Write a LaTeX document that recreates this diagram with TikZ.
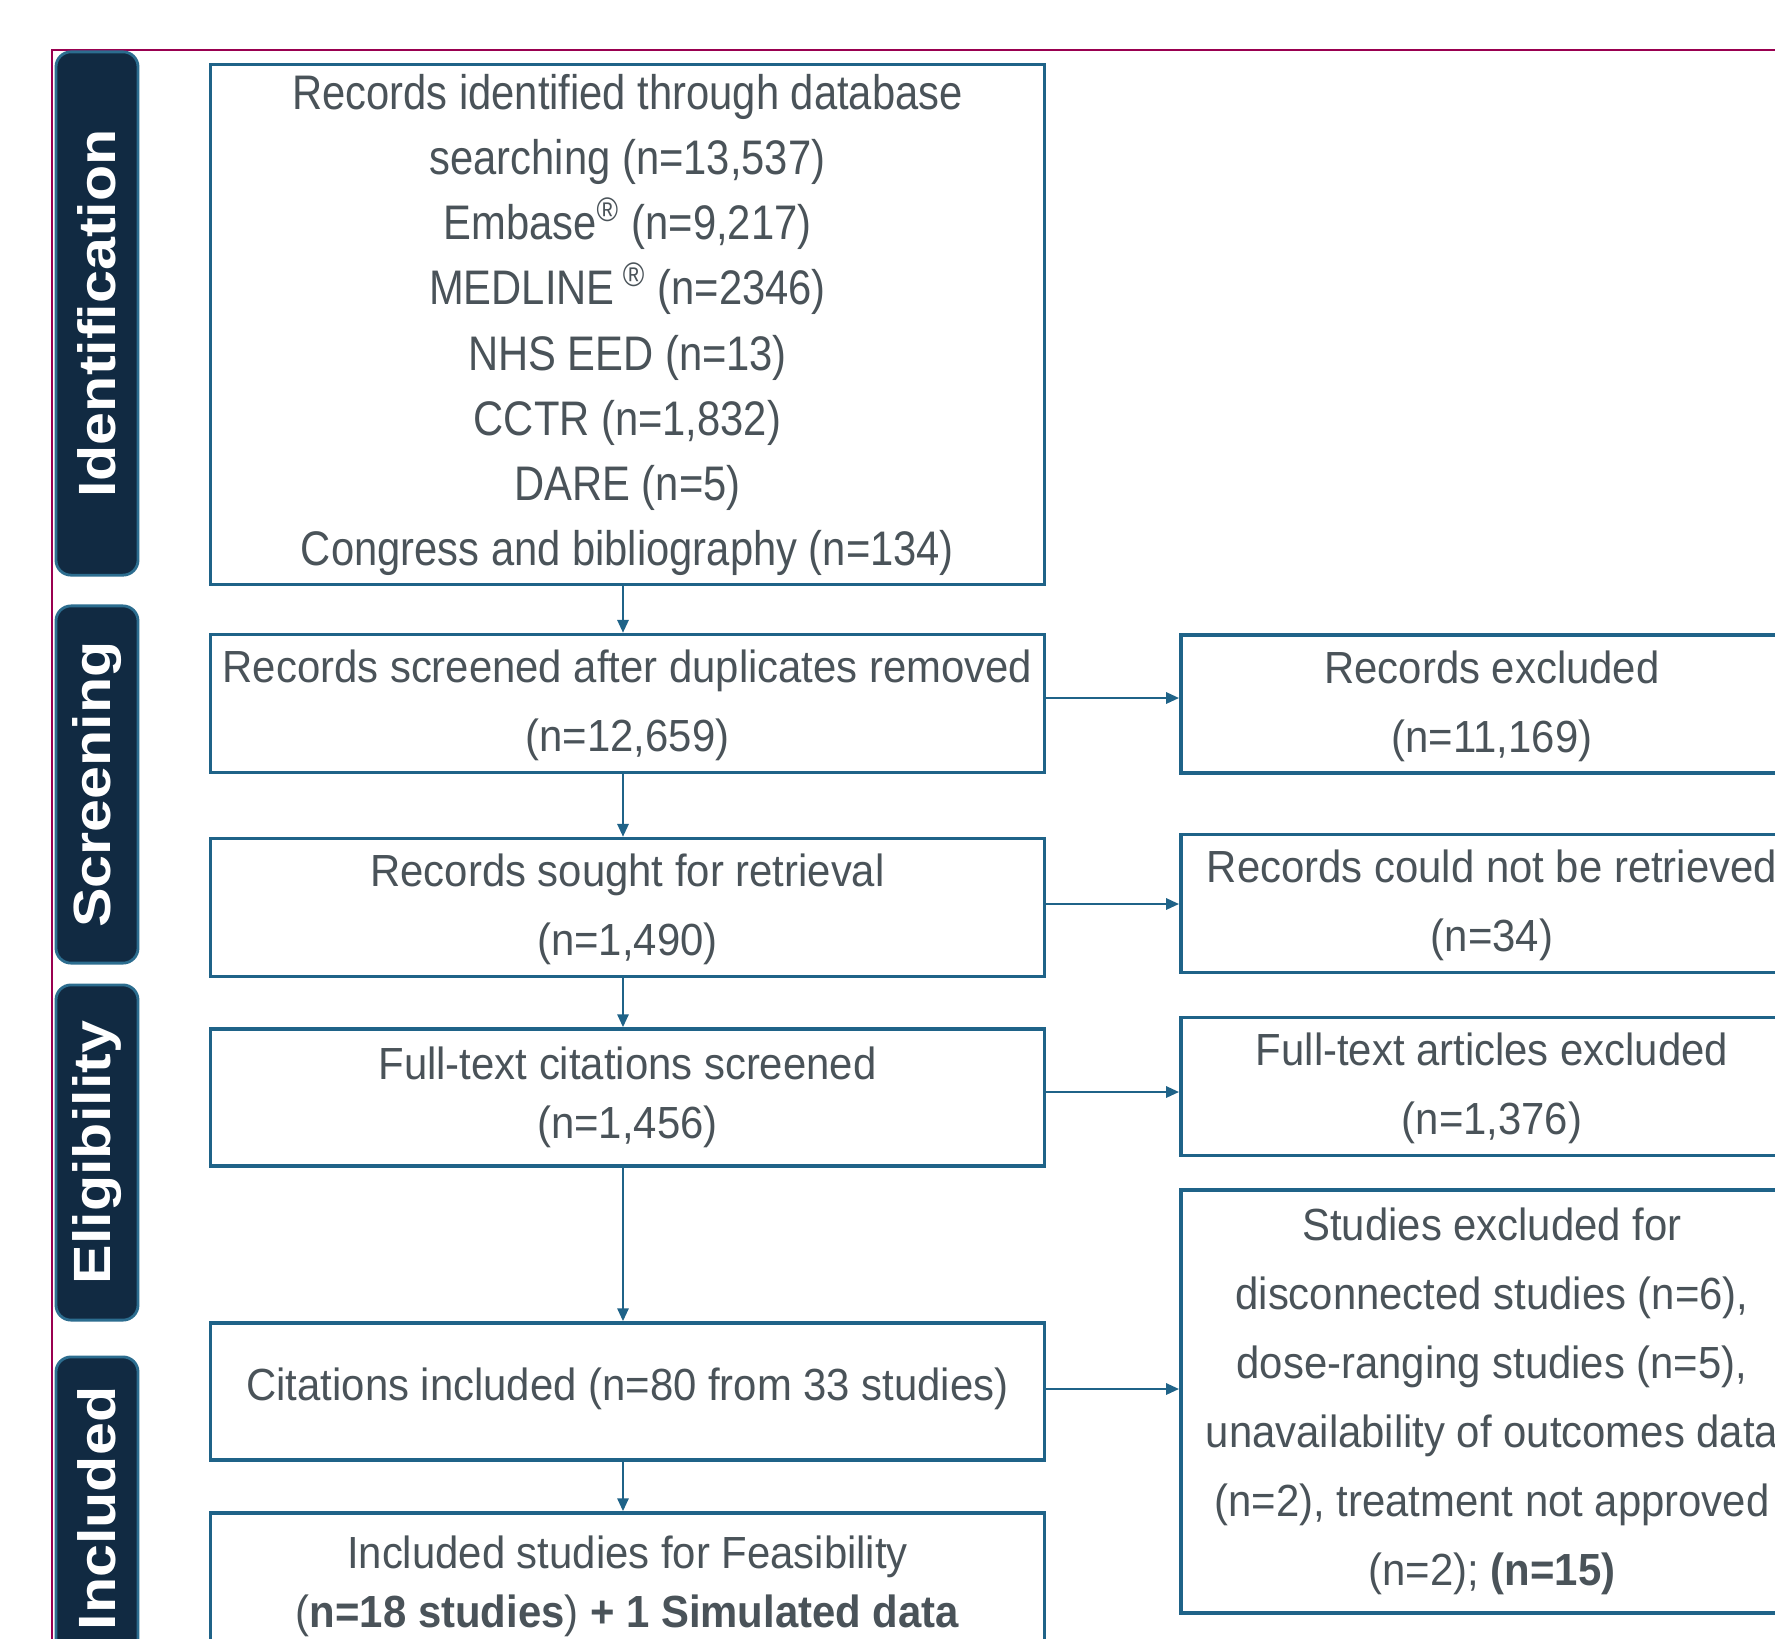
\documentclass[tikz,border=0pt]{standalone}
\usepackage{fontspec}
\setmainfont{Liberation Sans}
\newfontfamily\bodyfont[FakeStretch=0.93]{Liberation Sans}
\newfontfamily\idfont[FakeStretch=0.86]{Liberation Sans}
\newfontfamily\sidefont[FakeStretch=1.13]{Liberation Sans}
\usetikzlibrary{arrows.meta}
\definecolor{boxblue}{HTML}{1F6388}
\definecolor{txtgray}{HTML}{4A5359}
\definecolor{navy}{HTML}{112A42}
\definecolor{navyedge}{HTML}{2C6D8F}
\definecolor{framered}{HTML}{990050}
\newcommand\lowtext[2]{\raisebox{#1}{\begin{tabular}{@{}c@{}}#2\end{tabular}}}
\tikzset{
  flowbox/.style={draw=boxblue, line width=0.95pt, fill=white, inner sep=0pt,
    align=center, text=txtgray,
    font={\bodyfont\fontsize{12.8}{19.6}\selectfont}},
  sidebar/.style={draw=navyedge, line width=0.8pt, fill=navy, rounded corners=0.15cm,
    inner sep=0pt, minimum width=0.82cm, text=white,
    font={\sidefont\bfseries\fontsize{14.9}{16}\selectfont}},
  arr/.style={draw=boxblue, line width=0.8pt, -{Triangle[length=0.13cm,width=0.11cm]}},
  frameline/.style={draw=framered, line width=0.85pt}
}
\begin{document}
\begin{tikzpicture}[x=0.01cm, y=-0.01cm]
\useasboundingbox (0,0) rectangle (1775,1639);
\clip (0,0) rectangle (1775,1639);
\fill[white] (0,0) rectangle (1775,1639);
% frame
\draw[frameline] (52,1700) -- (52,50) -- (1850,50);
% side bars
\node[sidebar, minimum height=5.23cm] (sid) at (97,313.5) {\rotatebox{90}{Identification}};
\node[sidebar, minimum height=3.57cm] (sscr) at (97,784.5) {\rotatebox{90}{Screening}};
\node[sidebar, minimum height=3.35cm] (selig) at (97,1152.5) {\rotatebox{90}{Eligibility}};
\node[sidebar, minimum height=3.03cm] (sinc) at (97,1508.5) {\rotatebox{90}{Included}};
% left column
\node[flowbox, minimum width=8.33cm, minimum height=5.19cm,
  font={\idfont\fontsize{13.8}{18.5}\selectfont}] (b1) at (627.5,324.5)
  {\lowtext{-0.05cm}{Records identified through database\\
   searching (n=13,537)\\
   Embase\textsuperscript{\textregistered} (n=9,217)\\
   MEDLINE\,\textsuperscript{\textregistered} (n=2346)\\
   NHS EED (n=13)\\
   CCTR (n=1,832)\\
   DARE (n=5)\\
   Congress and bibliography (n=134)}};
\node[flowbox, minimum width=8.33cm, minimum height=1.37cm] (b2) at (627.5,703.5)
  {\lowtext{-0.035cm}{Records screened after duplicates removed\\(n=12,659)}};
\node[flowbox, minimum width=8.33cm, minimum height=1.37cm] (b3) at (627.5,907.5)
  {\lowtext{-0.03cm}{Records sought for retrieval\\(n=1,490)}};
\node[flowbox, minimum width=8.33cm, minimum height=1.37cm,
  font={\bodyfont\fontsize{12.8}{16.8}\selectfont}] (b4) at (627.5,1097.5)
  {\lowtext{-0.05cm}{Full-text citations screened\\(n=1,456)}};
\node[flowbox, minimum width=8.33cm, minimum height=1.37cm] (b5) at (627.5,1391.5)
  {\raisebox{0.15cm}{Citations included (n=80 from 33 studies)}};
\node[flowbox, minimum width=8.33cm, minimum height=1.47cm,
  font={\bodyfont\fontsize{12.8}{16.8}\selectfont}] (b6) at (627.5,1586.5)
  {\lowtext{0.01cm}{Included studies for Feasibility\\({\bfseries n=18 studies}) {\bfseries + 1 Simulated data}}};
% right column
\node[flowbox, minimum width=6.22cm, minimum height=1.38cm] (r1) at (1492,704)
  {\lowtext{-0.025cm}{Records excluded\\(n=11,169)}};
\node[flowbox, minimum width=6.22cm, minimum height=1.37cm] (r2) at (1492,903.5)
  {\lowtext{-0.035cm}{Records could not be retrieved\\(n=34)}};
\node[flowbox, minimum width=6.22cm, minimum height=1.37cm] (r3) at (1492,1086.5)
  {\lowtext{-0.03cm}{Full-text articles excluded\\(n=1,376)}};
\node[flowbox, minimum width=6.22cm, minimum height=4.23cm] (r4) at (1492,1401.5)
  {Studies excluded for\\
   disconnected studies (n=6),\\
   dose-ranging studies (n=5),\\
   unavailability of outcomes data\\
   (n=2), treatment not approved\\
   (n=2); \textbf{(n=15)}};
% vertical arrows
\draw[arr] ([xshift=-0.045cm]b1.south) -- ([xshift=-0.045cm]b2.north);
\draw[arr] ([xshift=-0.045cm]b2.south) -- ([xshift=-0.045cm]b3.north);
\draw[arr] ([xshift=-0.045cm]b3.south) -- ([xshift=-0.045cm]b4.north);
\draw[arr] ([xshift=-0.045cm]b4.south) -- ([xshift=-0.045cm]b5.north);
\draw[arr] ([xshift=-0.045cm]b5.south) -- ([xshift=-0.045cm]b6.north);
% horizontal arrows
\draw[arr] (b2.east |- 0,698) -- (r1.west |- 0,698);
\draw[arr] (b3.east |- 0,904) -- (r2.west |- 0,904);
\draw[arr] (b4.east |- 0,1092) -- (r3.west |- 0,1092);
\draw[arr] (b5.east |- 0,1389) -- (r4.west |- 0,1389);
\end{tikzpicture}
\end{document}
